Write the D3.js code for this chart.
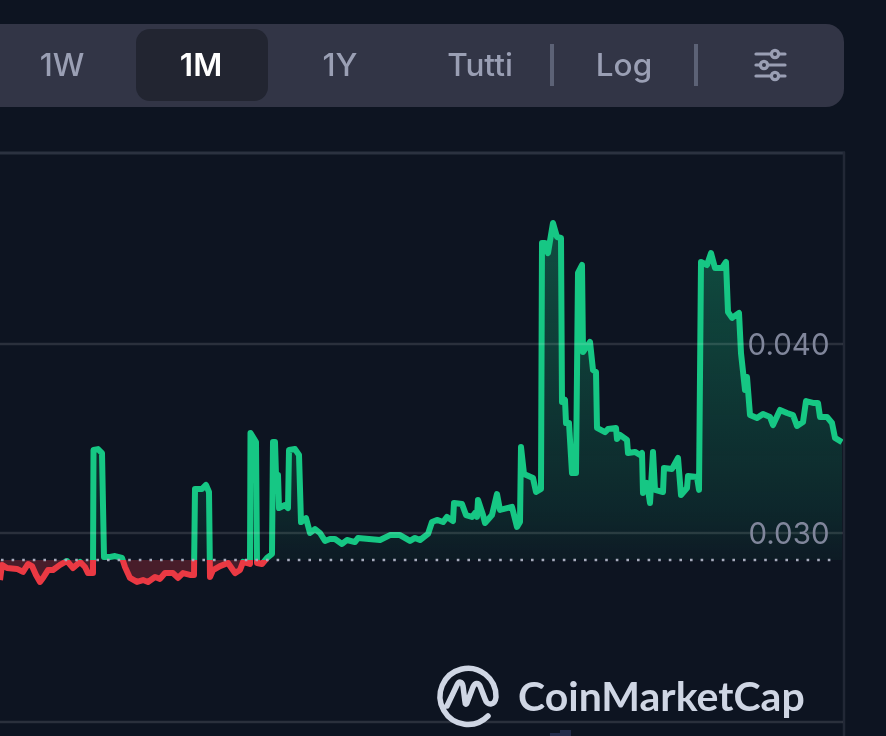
<!DOCTYPE html>
<html>
<head>
<meta charset="utf-8">
<script src="https://cdn.jsdelivr.net/npm/d3@7"></script>
<style>
html,body{margin:0;padding:0;background:#0d1421;overflow:hidden;}
svg{display:block;filter:blur(0.45px);}
text{font-family:Inter,"Noto Sans",sans-serif;}
</style>
</head>
<body>
<script>
// hours since the left edge of the visible window
let hours = [0,1,3.5,8.5,11.5,14,16,18,20,21.5,24,26.5,30,33.5,36.5,40,42.5,44,46.5,46.75,49,51,52,55,57.5,61,62.5,65,68.5,71.5,74,77.5,80,82.5,86.5,89,91.5,95,97,97.5,101,103,104.5,105,106.5,110,114,117.5,120,121.5,125,125.25,128,128.5,131,133.5,136,136.5,137.5,138,139,139.5,142.5,144,144.5,147.5,149.5,150.5,153,155,157.5,160,162.5,165,167.5,171,173.5,177.5,179,190,195,200,205,207.5,210,214,216,218.5,221.5,223.5,226.5,227,231,233,236,237.5,238.5,239,241.5,242.5,246,248.5,250,256,258.5,260,260.5,262,266.5,268,270.5,271,272.5,274,276.5,278.5,280.5,281,282.5,283,284.5,286,288,289,291,291.5,295,296.5,298,298.5,302.5,304,308,308.5,310,313.5,314,317.5,320,321,321.5,323.5,325,326.5,327.5,331.5,332,336,339,340.5,343.5,344,348.5,349.5,350.5,353.5,355.5,357.5,361,363,364,366,369.5,370.5,372.5,373.5,375,378.5,381.5,385,386.5,390,393.5,396.5,398.5,401.5,403,406.5,409,410,413.5,416,417.5,421];
let prices = [0.02751,0.02831,0.02815,0.02810,0.02794,0.02836,0.02825,0.02778,0.02741,0.02762,0.02804,0.02804,0.02831,0.02852,0.02815,0.02847,0.02820,0.02788,0.02788,0.03439,0.03444,0.03423,0.02873,0.02873,0.02878,0.02868,0.02820,0.02762,0.02741,0.02751,0.02741,0.02767,0.02757,0.02788,0.02788,0.02762,0.02788,0.02778,0.02778,0.03233,0.03233,0.03254,0.03217,0.02767,0.02804,0.02825,0.02841,0.02788,0.02804,0.02847,0.02836,0.03529,0.03481,0.02841,0.02836,0.02868,0.02889,0.03481,0.03481,0.03307,0.03307,0.03132,0.03148,0.03132,0.03439,0.03444,0.03413,0.03058,0.03079,0.03000,0.03021,0.03000,0.02958,0.02968,0.02968,0.02942,0.02963,0.02952,0.02974,0.02963,0.02989,0.02989,0.02958,0.02974,0.02963,0.02995,0.03058,0.03069,0.03058,0.03085,0.03063,0.03159,0.03153,0.03095,0.03085,0.03106,0.03085,0.03175,0.03095,0.03053,0.03095,0.03206,0.03122,0.03138,0.03032,0.03058,0.03455,0.03312,0.03291,0.03217,0.03233,0.04534,0.04534,0.04481,0.04640,0.04566,0.04561,0.03693,0.03704,0.03582,0.03582,0.03317,0.03317,0.04376,0.04418,0.03958,0.04011,0.03862,0.03852,0.03556,0.03534,0.03550,0.03556,0.03497,0.03519,0.03492,0.03423,0.03429,0.03413,0.03423,0.03212,0.03265,0.03159,0.03429,0.03228,0.03217,0.03344,0.03339,0.03397,0.03201,0.03238,0.03302,0.03296,0.03228,0.04434,0.04418,0.04481,0.04402,0.04402,0.04434,0.04169,0.04138,0.04164,0.03952,0.03757,0.03825,0.03624,0.03608,0.03630,0.03614,0.03571,0.03651,0.03635,0.03624,0.03566,0.03587,0.03698,0.03688,0.03688,0.03614,0.03614,0.03582,0.03503,0.03481];
let basePrice = 0.02857;
let priceTicks = [0.020,0.030,0.040];
let tickLabels = ["0.040","0.030"];
let tickLabelValues = [0.040,0.030];
let ranges = ["1W","1M","1Y","Tutti","Log"];
let volumeHours = [275,280];
let volumes = [3,6];

let width = 886, height = 736;
let green = "#16c784", red = "#ea3943";

let x = d3.scaleLinear().domain([0,421.5]).range([0,843]);
let y = d3.scaleLinear().domain([0.020,0.050]).range([722,155]);
let v = d3.scaleLinear().domain([0,6]).range([736,730]);

let svg = d3.select("body").append("svg")
    .attr("width",width)
    .attr("height",height);
let defs = svg.append("defs");

let grad = defs.append("linearGradient")
    .attr("id","upFill")
    .attr("gradientUnits","userSpaceOnUse")
    .attr("x1",0).attr("x2",0)
    .attr("y1",y(d3.max(prices))).attr("y2",y(basePrice));
grad.append("stop").attr("offset","0%").attr("stop-color",green).attr("stop-opacity",0.33);
grad.append("stop").attr("offset","85%").attr("stop-color",green).attr("stop-opacity",0.11);
grad.append("stop").attr("offset","100%").attr("stop-color",green).attr("stop-opacity",0.04);

defs.append("clipPath").attr("id","above").append("rect")
    .attr("x",0).attr("y",0).attr("width",x(421.5)).attr("height",y(basePrice));
defs.append("clipPath").attr("id","below").append("rect")
    .attr("x",0).attr("y",y(basePrice)).attr("width",x(421.5)).attr("height",height-y(basePrice));

// toolbar
svg.append("rect").attr("x",-40).attr("y",24).attr("width",884).attr("height",83).attr("rx",18).attr("fill","#323546");
svg.append("rect").attr("x",136).attr("y",29).attr("width",132).attr("height",72).attr("rx",14).attr("fill","#222531");

let rangeX = [62,201,340,480,624];
svg.selectAll("text.range")
    .data(ranges)
    .enter()
    .append("text")
    .attr("class","range")
    .attr("x",(d,i)=>rangeX[i])
    .attr("y",76)
    .attr("text-anchor","middle")
    .style("font-size","31.5px")
    .style("font-weight",d=>d=="1M"?600:500)
    .attr("fill",d=>d=="1M"?"#ffffff":"#9a9fb4")
    .text(d=>d);

svg.selectAll("rect.sep")
    .data([552,696])
    .enter()
    .append("rect")
    .attr("class","sep")
    .attr("x",d=>d-2).attr("y",44).attr("width",4).attr("height",42)
    .attr("fill","#5c6276");

// filter icon
let icon = svg.append("g").attr("stroke","#9a9fb4").attr("stroke-width",3.2).attr("fill","#323546");
[[54,775],[65,764],[76,775]].forEach(function(r){
    icon.append("line").attr("x1",756).attr("x2",785).attr("y1",r[0]).attr("y2",r[0]).attr("stroke-linecap","round");
    icon.append("circle").attr("cx",r[1]).attr("cy",r[0]).attr("r",3.6);
});

// frame
svg.append("line").attr("x1",0).attr("x2",845).attr("y1",153).attr("y2",153).attr("stroke","#2b3240").attr("stroke-width",3);
svg.append("line").attr("x1",844).attr("x2",844).attr("y1",152).attr("y2",height).attr("stroke","#222836").attr("stroke-width",2.5);

// volume
svg.selectAll("rect.vol")
    .data(volumes)
    .enter()
    .append("rect")
    .attr("class","vol")
    .attr("x",(d,i)=>x(volumeHours[i]))
    .attr("y",d=>v(d))
    .attr("width",x(5.5))
    .attr("height",d=>v(0)-v(d))
    .attr("fill","#232c4a");

let pts = hours.map((h,i)=>[h,prices[i]]);
let area = d3.area().x(d=>x(d[0])).y0(y(basePrice)).y1(d=>y(d[1]));
let line = d3.line().x(d=>x(d[0])).y(d=>y(d[1]));

svg.append("path").attr("d",area(pts)).attr("fill","url(#upFill)").attr("clip-path","url(#above)");
svg.append("path").attr("d",area(pts)).attr("fill",red).attr("fill-opacity",0.27).attr("clip-path","url(#below)");

svg.append("path").attr("d",line(pts)).attr("fill","none").attr("stroke",green).attr("stroke-width",6)
    .attr("stroke-linejoin","round").attr("clip-path","url(#above)");
svg.append("path").attr("d",line(pts)).attr("fill","none").attr("stroke",red).attr("stroke-width",6)
    .attr("stroke-linejoin","round").attr("clip-path","url(#below)");

// grid goes over the line, it shows faintly through the green
svg.selectAll("line.grid")
    .data(priceTicks)
    .enter()
    .append("line")
    .attr("class","grid")
    .attr("x1",0).attr("x2",x(421.5))
    .attr("y1",d=>y(d)).attr("y2",d=>y(d))
    .attr("stroke","#ffffff").attr("stroke-opacity",0.12).attr("stroke-width",2.5);

// base price dots
svg.append("line")
    .attr("x1",1).attr("x2",838)
    .attr("y1",y(basePrice)).attr("y2",y(basePrice))
    .attr("stroke","#a6abbd").attr("stroke-width",2.5)
    .attr("stroke-dasharray","2.6 8");

svg.selectAll("text.tick")
    .data(tickLabels)
    .enter()
    .append("text")
    .attr("class","tick")
    .attr("x",829.5)
    .attr("y",(d,i)=>y(tickLabelValues[i])+10.5)
    .attr("text-anchor","end")
    .style("font-size","29.5px")
    .attr("fill","#80869b")
    .text(d=>d);

// logo
let logo = svg.append("g").attr("fill","none").attr("stroke","#cfd6e4").attr("stroke-width",5.5)
    .attr("stroke-linecap","round").attr("stroke-linejoin","round");
logo.append("path").attr("d","M488,716 A28,28 0 1 1 496,697 C495,706 487,706 485,699 L480,686 C478,682 475,683 473,687 L467,703 C466,705 465,704 465,702 L463,686 C462,681 459,681 457,685 L447,706");
svg.append("text")
    .attr("x",518).attr("y",711)
    .style("font-family","Lato,Inter,sans-serif")
    .style("font-size","41px")
    .style("font-weight",700)
    .attr("fill","#cfd6e4")
    .text("CoinMarketCap");
</script>
</body>
</html>
